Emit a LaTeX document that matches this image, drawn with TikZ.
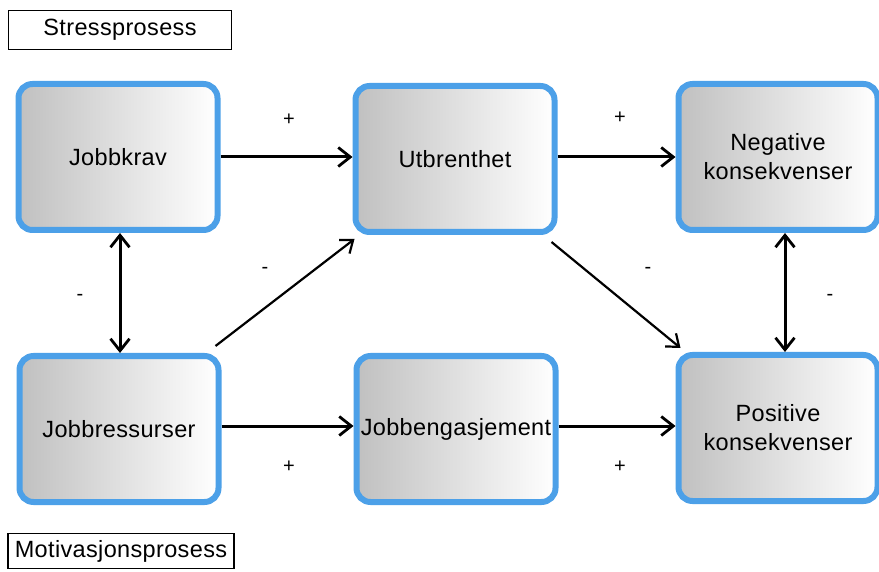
\documentclass[tikz,border=0pt]{standalone}
\usepackage{fontspec}
\setmainfont{Liberation Sans}
\newfontfamily\labelfont[LetterSpace=1.5]{Liberation Sans}
\usetikzlibrary{arrows.meta}
\definecolor{boxblue}{RGB}{76,160,232}
\definecolor{boxgray}{RGB}{192,192,192}
\tikzset{
  procbox/.style={draw=boxblue, line width=6pt, rounded corners=14pt,
    left color=boxgray, right color=white, shading angle=90,
    minimum width=199pt, minimum height=146pt, inner sep=0pt,
    align=center, font=\labelfont\fontsize{23.5}{29}\selectfont},
  tagbox/.style={draw=black, line width=1.2pt, inner sep=0pt,
    font=\labelfont\fontsize{23.5}{26}\selectfont},
  barb/.tip={Straight Barb[length=12pt,width=19pt,line width=2.8pt]},
  sbarb/.tip={Straight Barb[length=11pt,width=17pt,line width=2.2pt]},
  link/.style={line width=3pt, -barb},
  slink/.style={line width=2.2pt, -sbarb},
  both/.style={line width=3pt, barb-barb},
  sign/.style={font=\fontsize{20}{22}\selectfont, inner sep=0pt}
}
\begin{document}
\begin{tikzpicture}[x=1pt, y=-1pt]
  \useasboundingbox (0,0) rectangle (879,572);
  \fill[white] (0,0) rectangle (879,572);

  % process labels
  \node[tagbox, minimum width=223pt, minimum height=39pt] (stress) at (120,30) {Stressprosess};
  \node[tagbox, minimum width=226pt, minimum height=35pt] (motiv) at (121,551) {Motivasjonsprosess};

  % boxes
  \node[procbox] (krav) at (118,157) {Jobbkrav};
  \node[procbox] (utb)  at (455,159) {Utbrenthet};
  \node[procbox] (neg)  at (778,157) {Negative\\konsekvenser};
  \node[procbox] (ress) at (119,429) {Jobbressurser};
  \node[procbox] (eng)  at (456,429) {Jobbengasjement};
  \node[procbox] (pos)  at (778,428) {Positive\\konsekvenser};

  % connectors
  \draw[link] (krav.east) -- (krav.east -| utb.west);
  \draw[link] (utb.east |- krav.east) -- (neg.west |- krav.east);
  \draw[link] ([yshift=3pt]ress.east) -- ([yshift=3pt]ress.east -| eng.west);
  \draw[link] ([yshift=3pt]eng.east) -- ([yshift=3pt]eng.east -| pos.west);
  \draw[both] ([xshift=2pt]krav.south) -- ([xshift=2pt]krav.south |- ress.north);
  \draw[both] ([xshift=7pt]neg.south) -- ([xshift=7pt]neg.south |- pos.north);
  \draw[slink] ([shift={(-6pt,7pt)}]ress.north east) -- ([shift={(2pt,-4pt)}]utb.south west);
  \draw[slink] ([shift={(-6pt,-7pt)}]utb.south east) -- ([shift={(5pt,4pt)}]pos.north west);

  % signs
  \node[sign] (s1) at (289,120) {+};
  \node[sign] (s2) at (620,118) {+};
  \node[sign] (s3) at (289,467) {+};
  \node[sign] (s4) at (620,467) {+};
  \node[sign] (s5) at (80,297) {-};
  \node[sign] (s6) at (265,270) {-};
  \node[sign] (s7) at (648,270) {-};
  \node[sign] (s8) at (830,297) {-};
\end{tikzpicture}
\end{document}
